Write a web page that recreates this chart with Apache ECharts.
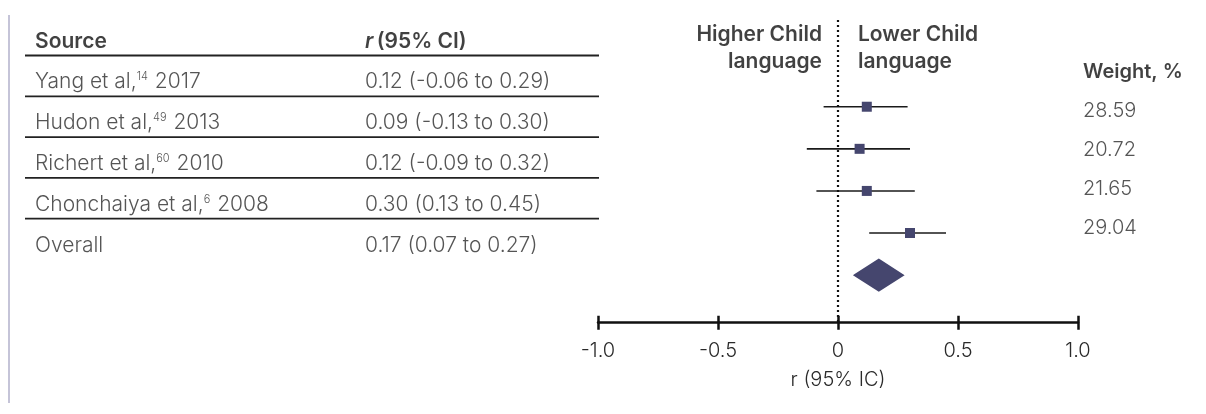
<!DOCTYPE html>
<html><head><meta charset="utf-8">
<script src="https://cdn.jsdelivr.net/npm/echarts@6/dist/echarts.min.js"></script>
<style>html,body{margin:0;padding:0;background:#fff}#c{width:1206px;height:414px}</style>
</head><body><div id="c"></div>
<script>
// ---- data ----
const studies = ['Yang et al', 'Hudon et al', 'Richert et al', 'Chonchaiya et al'];
const refs = ['14', '49', '60', '6'];
const years = ['2017', '2013', '2010', '2008'];
const rVals = [0.12, 0.09, 0.12, 0.30];
const lowerVals = [-0.06, -0.13, -0.09, 0.13];
const upperVals = [0.29, 0.30, 0.32, 0.45];
const weights = ['28.59', '20.72', '21.65', '29.04'];
const overallLabel = 'Overall';
const overallR = 0.17;
const overallLower = 0.07;
const overallUpper = 0.27;
const xTickLabels = ['-1.0', '-0.5', '0', '0.5', '1.0'];
const xMin = -1, xMax = 1, xInterval = 0.5;

// ---- helpers ----
const FONT = "'Inter Light', 'Lato Light', Inter";
const FONT_B = 'Inter';
const TXT = '#2a2a2a';
const HEAD = '#111111';
const MARK = '#45466e';
const fmt = v => v.toFixed(2);
const ciText = (r, lo, hi) => `${fmt(r)} (${fmt(lo)} to ${fmt(hi)})`;
const nRows = studies.length;
const overallRow = nRows;

const rich = {
  t: { fontFamily: FONT, fontSize: 21, fontWeight: 300, color: TXT },
  s: { fontFamily: FONT, fontSize: 11, fontWeight: 300, color: TXT, padding: [0, 1, 10, 0] },
  h: { fontFamily: FONT_B, fontSize: 21, fontWeight: 600, color: HEAD },
  hi: { fontFamily: FONT_B, fontSize: 21, fontWeight: 600, fontStyle: 'italic', color: HEAD }
};

const sourceData = studies.map((s, i) => ({ value: [35, i], label: { formatter: `{t|${s},}{s|${refs[i]}}{t| ${years[i]}}` } }));
sourceData.push({ value: [35, overallRow], label: { formatter: `{t|${overallLabel}}` } });
sourceData.push({ value: [35, -1], label: { formatter: `{h|Source}` } });

const ciData = studies.map((s, i) => ({ value: [365, i], label: { formatter: `{t|${ciText(rVals[i], lowerVals[i], upperVals[i])}}` } }));
ciData.push({ value: [365, overallRow], label: { formatter: `{t|${ciText(overallR, overallLower, overallUpper)}}` } });
ciData.push({ value: [365, -1], label: { formatter: `{hi|r} {h|(95% CI)}` } });

const ruleRows = [-0.6, 0.4, 1.4, 2.4, 3.4];

const chart = echarts.init(document.getElementById('c'), null, { renderer: 'canvas' });
chart.setOption({
  animation: false,
  backgroundColor: '#fff',
  grid: [
    { left: 598, right: 1206 - 1078, top: 20, bottom: 91.3 },      // forest
    { left: 0, right: 0, top: 18.8, bottom: 150.4 },               // table
    { left: 0, right: 0, top: 52.5, bottom: 127.5 }                // weights
  ],
  xAxis: [
    {
      gridIndex: 0, type: 'value', min: xMin, max: xMax, interval: xInterval,
      position: 'bottom',
      axisLine: { show: true, onZero: false, lineStyle: { color: '#111', width: 2.5 } },
      axisTick: { show: true, inside: false, length: 7, lineStyle: { color: '#111', width: 2.5 } },
      axisLabel: {
        margin: 18, fontFamily: FONT, fontSize: 20, fontWeight: 300, color: TXT,
        formatter: v => xTickLabels[Math.round((v - xMin) / xInterval)]
      },
      splitLine: { show: false },
      name: 'r (95% IC)', nameLocation: 'middle', nameGap: 47,
      nameTextStyle: { fontFamily: FONT, fontSize: 20, fontWeight: 300, color: TXT }
    },
    {
      gridIndex: 0, type: 'value', min: xMin, max: xMax, interval: xInterval,
      position: 'bottom', offset: 0,
      axisLine: { show: false, onZero: false },
      axisTick: { show: true, inside: true, length: 7, lineStyle: { color: '#111', width: 2.5 } },
      axisLabel: { show: false }, splitLine: { show: false }
    },
    { gridIndex: 1, type: 'value', min: 0, max: 1206, show: false },
    { gridIndex: 2, type: 'value', min: 0, max: 1206, show: false }
  ],
  yAxis: [
    { gridIndex: 0, type: 'value', min: -2.06, max: 5.13, inverse: true, show: false },
    { gridIndex: 1, type: 'value', min: -1.5, max: 4.5, inverse: true, show: false },
    { gridIndex: 2, type: 'value', min: -1.5, max: 4.5, inverse: true, show: false }
  ],
  series: [
    // CI whiskers
    {
      type: 'custom', xAxisIndex: 0, yAxisIndex: 0, z: 3,
      data: studies.map((s, i) => [lowerVals[i], upperVals[i], i]),
      renderItem: (params, api) => {
        const a = api.coord([api.value(0), api.value(2)]);
        const b = api.coord([api.value(1), api.value(2)]);
        return { type: 'line', shape: { x1: a[0], y1: a[1], x2: b[0], y2: b[1] }, style: { stroke: '#1a1a1a', lineWidth: 1.6 } };
      }
    },
    // point estimates + null line
    {
      type: 'scatter', xAxisIndex: 0, yAxisIndex: 0, z: 4,
      symbol: 'rect', symbolSize: 10,
      itemStyle: { color: MARK, opacity: 1 },
      data: studies.map((s, i) => [rVals[i], i]),
      markLine: {
        silent: true, symbol: 'none', label: { show: false },
        lineStyle: { color: '#111', type: [2, 3], width: 2.2, opacity: 1 },
        data: [{ xAxis: 0 }]
      }
    },
    // overall diamond
    {
      type: 'custom', xAxisIndex: 0, yAxisIndex: 0, z: 4,
      data: [[overallLower, overallR, overallUpper, overallRow]],
      renderItem: (params, api) => {
        const y = api.value(3);
        const l = api.coord([api.value(0), y]);
        const c = api.coord([api.value(1), y]);
        const r = api.coord([api.value(2), y]);
        const h = 15.5;
        return { type: 'polygon', shape: { points: [[l[0], l[1]], [c[0], c[1] - h], [r[0], r[1]], [c[0], c[1] + h]] }, style: { fill: MARK, stroke: MARK, lineWidth: 2 } };
      }
    },
    // direction labels
    {
      type: 'scatter', xAxisIndex: 0, yAxisIndex: 0, symbolSize: 0, silent: true,
      data: [
        { value: [0, -1.38], label: { formatter: 'Higher Child\nlanguage', position: 'left', distance: 16, align: 'right' } },
        { value: [0, -1.38], label: { formatter: 'Lower Child\nlanguage', position: 'right', distance: 20, align: 'left' } }
      ],
      label: { show: true, fontFamily: FONT_B, fontSize: 21, fontWeight: 600, color: HEAD, lineHeight: 27 }
    },
    // table: source column
    {
      type: 'scatter', xAxisIndex: 2, yAxisIndex: 1, symbolSize: 0, silent: true,
      data: sourceData,
      label: { show: true, position: 'right', distance: 0, offset: [0, 2], rich: rich }
    },
    // table: CI column
    {
      type: 'scatter', xAxisIndex: 2, yAxisIndex: 1, symbolSize: 0, silent: true,
      data: ciData,
      label: { show: true, position: 'right', distance: 0, offset: [0, 2], rich: rich }
    },
    // table rules
    {
      type: 'custom', xAxisIndex: 2, yAxisIndex: 1, silent: true,
      data: ruleRows.map(y => [25, 599, y]),
      renderItem: (params, api) => {
        const a = api.coord([api.value(0), api.value(2)]);
        const b = api.coord([api.value(1), api.value(2)]);
        return { type: 'line', shape: { x1: a[0], y1: a[1], x2: b[0], y2: b[1] }, style: { stroke: '#222', lineWidth: 1.8 } };
      }
    },
    // weights column
    {
      type: 'scatter', xAxisIndex: 3, yAxisIndex: 2, symbolSize: 0, silent: true,
      data: weights.map((w, i) => ({ value: [1083, i], label: { formatter: w } })).concat([
        { value: [1083, -1], label: { formatter: 'Weight, %', fontFamily: FONT_B, fontWeight: 600, color: HEAD } }
      ]),
      label: { show: true, position: 'right', distance: 0, fontFamily: FONT, fontSize: 20, fontWeight: 300, color: TXT }
    }
  ],
  graphic: [
    { type: 'line', shape: { x1: 9, y1: 15, x2: 9, y2: 403 }, style: { stroke: '#c5c4d8', lineWidth: 2 } }
  ]
});
</script>
</body></html>
